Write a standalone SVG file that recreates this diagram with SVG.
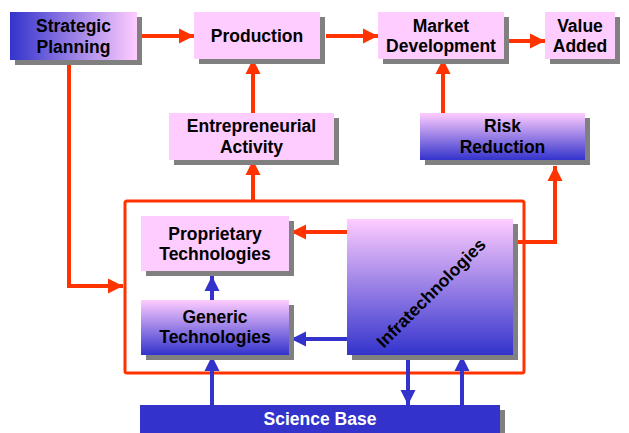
<svg xmlns="http://www.w3.org/2000/svg" width="629" height="433" viewBox="0 0 629 433">
<defs>
<linearGradient id="gh" x1="0" y1="0" x2="1" y2="0"><stop offset="0" stop-color="#3333cc"/><stop offset="1" stop-color="#ffccff"/></linearGradient>
<linearGradient id="gv" x1="0" y1="0" x2="0" y2="1"><stop offset="0" stop-color="#ffccff"/><stop offset="1" stop-color="#3333cc"/></linearGradient>
<marker id="ar" viewBox="0 0 10 10" refX="10" refY="5" markerWidth="3.8" markerHeight="3.8" orient="auto" markerUnits="strokeWidth"><path d="M0,0L10,5L0,10z" fill="#ff3300"/></marker>
<marker id="ab" viewBox="0 0 10 10" refX="10" refY="5" markerWidth="3.8" markerHeight="3.8" orient="auto" markerUnits="strokeWidth"><path d="M0,0L10,5L0,10z" fill="#3333cc"/></marker>
</defs>
<style>
.sh{fill:#808080}
.pk{fill:#ffccff}
.t{font-family:"Liberation Sans",Arial,sans-serif;font-weight:bold;font-size:17.5px;fill:#000;text-anchor:middle}
.w{fill:#fff}
.r{stroke:#ff3300;stroke-width:4;fill:none;marker-end:url(#ar)}
.b{stroke:#3333cc;stroke-width:4;fill:none;marker-end:url(#ab)}
</style>
<g id="connectors">
<rect x="125" y="201" width="399" height="172" fill="none" stroke="#ff3300" stroke-width="3" rx="2"/>
<line class="r" x1="142" y1="36" x2="194" y2="36"/>
<line class="r" x1="326" y1="36" x2="378" y2="36"/>
<line class="r" x1="509" y1="41" x2="545" y2="41"/>
<line class="r" x1="253" y1="113" x2="253" y2="59"/>
<line class="r" x1="443" y1="113" x2="443" y2="59"/>
<line class="r" x1="253" y1="200" x2="253" y2="160"/>
<polyline class="r" points="69,65 69,286 123,286"/>
<polyline class="r" points="518,242 555,242 555,166"/>
<line class="r" x1="352" y1="232" x2="291" y2="232"/>
<line class="b" x1="352" y1="339" x2="291" y2="339"/>
<line class="b" x1="212" y1="300" x2="212" y2="276"/>
<line class="b" x1="212" y1="405" x2="212" y2="356"/>
<line class="b" x1="408" y1="360" x2="408" y2="405"/>
<line class="b" x1="462" y1="405" x2="462" y2="356"/>
</g>
<g id="strategic-planning"><rect class="sh" x="15" y="17" width="127" height="48"/><rect x="10" y="12" width="127" height="48" fill="url(#gh)"/><text class="t" x="73.5" y="32">Strategic</text><text class="t" x="73.5" y="53">Planning</text></g>
<g id="production"><rect class="sh" x="199" y="17" width="126" height="47"/><rect class="pk" x="194" y="12" width="126" height="47"/><text class="t" x="257" y="42">Production</text></g>
<g id="market-development"><rect class="sh" x="383" y="17" width="126" height="47"/><rect class="pk" x="378" y="12" width="126" height="47"/><text class="t" x="441" y="32">Market</text><text class="t" x="441" y="52">Development</text></g>
<g id="value-added"><rect class="sh" x="550" y="17" width="70" height="47"/><rect class="pk" x="545" y="12" width="70" height="47"/><text class="t" x="580" y="32">Value</text><text class="t" x="580" y="52">Added</text></g>
<g id="entrepreneurial-activity"><rect class="sh" x="174" y="118" width="165" height="47"/><rect class="pk" x="169" y="113" width="165" height="47"/><text class="t" x="251.5" y="132">Entrepreneurial</text><text class="t" x="251.5" y="153">Activity</text></g>
<g id="risk-reduction"><rect class="sh" x="425" y="118" width="165" height="47"/><rect x="420" y="113" width="165" height="47" fill="url(#gv)"/><text class="t" x="502.5" y="132">Risk</text><text class="t" x="502.5" y="153">Reduction</text></g>
<g id="proprietary-technologies"><rect class="sh" x="146" y="221" width="148" height="55"/><rect class="pk" x="141" y="216" width="148" height="55"/><text class="t" x="215" y="240">Proprietary</text><text class="t" x="215" y="260">Technologies</text></g>
<g id="generic-technologies"><rect class="sh" x="146" y="305" width="148" height="55"/><rect x="141" y="300" width="148" height="55" fill="url(#gv)"/><text class="t" x="215" y="323">Generic</text><text class="t" x="215" y="343">Technologies</text></g>
<g id="infratechnologies"><rect class="sh" x="352" y="224" width="166" height="136"/><rect x="347" y="219" width="166" height="136" fill="url(#gv)"/><text class="t" transform="translate(431,293) rotate(-45)" x="0" y="6">Infratechnologies</text></g>
<g id="science-base"><rect class="sh" x="145" y="410" width="360" height="28"/><rect x="140" y="405" width="360" height="28" fill="#3333cc"/><text class="t w" x="320" y="425">Science Base</text></g>
</svg>
